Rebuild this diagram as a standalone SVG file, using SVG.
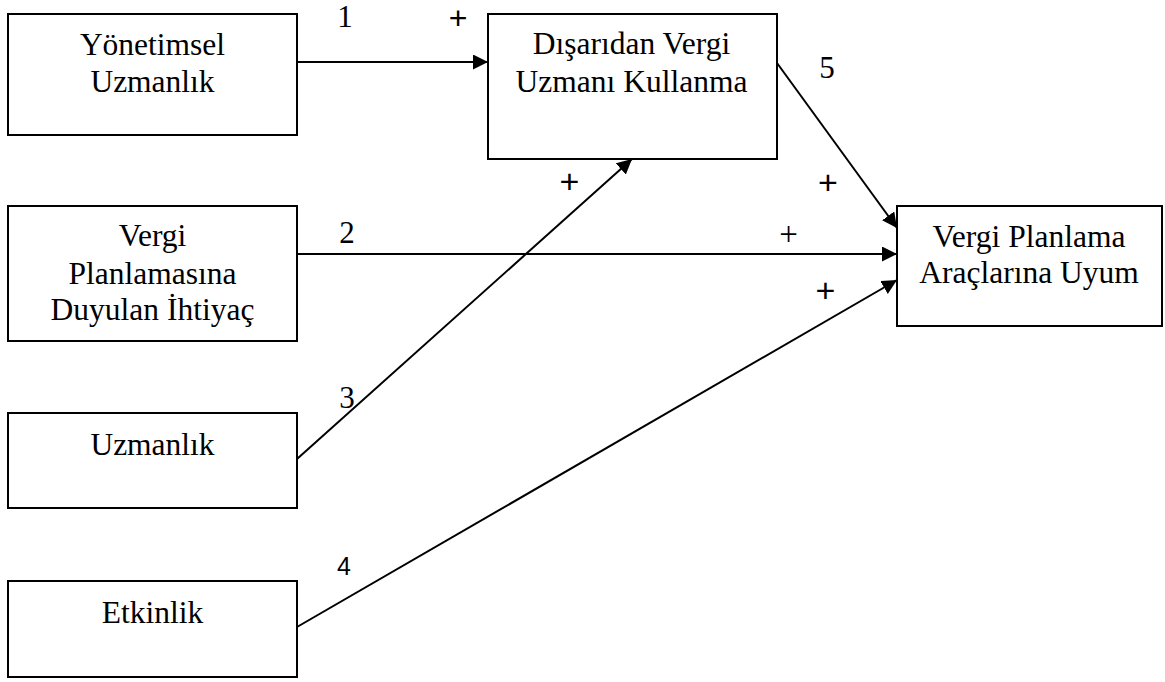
<svg xmlns="http://www.w3.org/2000/svg" width="1165" height="682" viewBox="0 0 1165 682">
<style>
.box{fill:#fff;stroke:#000;stroke-width:2}
.t{font-family:"Liberation Serif","Times New Roman",serif;font-size:31.5px;fill:#000;text-anchor:middle}
.n{font-family:"Liberation Serif","Times New Roman",serif;font-size:31px;fill:#000;text-anchor:middle}
.ns{font-family:"Liberation Sans",Arial,sans-serif;font-size:25px;fill:#000;text-anchor:middle}
.p{font-family:"Liberation Sans",Arial,sans-serif;font-size:34px;fill:#000;text-anchor:middle}
.pt{font-family:"Liberation Serif","Times New Roman",serif;font-size:33px;fill:#000;text-anchor:middle}
.c{stroke:#000;stroke-width:2;fill:none;marker-end:url(#ah)}
</style>
<defs>
<marker id="ah" markerUnits="userSpaceOnUse" markerWidth="15" markerHeight="15" refX="15" refY="7.5" orient="auto">
<path d="M0,0 L15,7.5 L0,15 z" fill="#000"/>
</marker>
</defs>
<rect width="1165" height="682" fill="#fff"/>
<g id="connectors">
<line class="c" x1="297" y1="62" x2="488" y2="62"/>
<line class="c" x1="297" y1="254" x2="897" y2="254"/>
<line class="c" x1="297" y1="459" x2="632" y2="159"/>
<line class="c" x1="297" y1="627" x2="897" y2="280"/>
<line class="c" x1="777" y1="63" x2="897" y2="228"/>
<text class="n" x="345" y="27">1</text>
<text class="n" x="347" y="243">2</text>
<text class="n" x="347" y="408">3</text>
<text class="ns" x="344" y="575">4</text>
<text class="n" x="827" y="78">5</text>
<text class="p" x="458" y="29" style="font-size:32px">+</text>
<text class="p" x="569.5" y="193">+</text>
<text class="p" x="828" y="193.5">+</text>
<text class="pt" x="788.5" y="244.5">+</text>
<text class="p" x="825.5" y="301.5">+</text>
</g>
<g id="yonetimsel">
<rect class="box" x="8" y="14" width="289" height="121"/>
<text class="t" x="152.5" y="55">Yönetimsel</text>
<text class="t" x="152.5" y="92">Uzmanlık</text>
</g>
<g id="ihtiyac">
<rect class="box" x="8" y="206" width="289" height="135"/>
<text class="t" x="152.5" y="246">Vergi</text>
<text class="t" x="152.5" y="284">Planlamasına</text>
<text class="t" x="152.5" y="320">Duyulan İhtiyaç</text>
</g>
<g id="uzmanlik">
<rect class="box" x="8" y="413" width="289" height="95"/>
<text class="t" x="152.5" y="455">Uzmanlık</text>
</g>
<g id="etkinlik">
<rect class="box" x="8" y="581" width="289" height="96"/>
<text class="t" x="152.5" y="623">Etkinlik</text>
</g>
<g id="disaridan">
<rect class="box" x="488" y="14" width="289" height="145"/>
<text class="t" x="631.5" y="54">Dışarıdan Vergi</text>
<text class="t" x="631.5" y="92">Uzmanı Kullanma</text>
</g>
<g id="uyum">
<rect class="box" x="897" y="206" width="265" height="120"/>
<text class="t" x="1029" y="247">Vergi Planlama</text>
<text class="t" x="1029" y="283">Araçlarına Uyum</text>
</g>
</svg>
